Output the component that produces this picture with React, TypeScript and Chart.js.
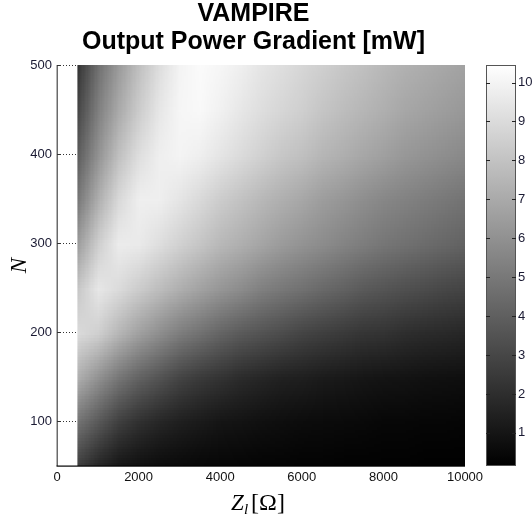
import React, { useEffect, useRef } from 'react';
import { Chart, registerables } from 'chart.js';

Chart.register(...registerables);

// Load impedance Z_l [Ω] (grid columns)
const zValues = [500, 1000, 1500, 2000, 2500, 3000, 3500, 4000, 4500, 5000, 5500, 6000, 6500, 7000, 7500, 8000, 8500, 9000, 9500, 10000];
// N (grid rows, top to bottom)
const nValues = [500, 450, 400, 350, 300, 250, 200, 150, 100, 50];

// Output power gradient [mW], one row per N value
const powerN500 = [2.3, 4.7, 6.4, 7.9, 9.1, 10.0, 10.3, 10.1, 9.8, 9.4, 9.1, 8.8, 8.5, 8.2, 7.9, 7.6, 7.3, 7.1, 6.9, 6.7];
const powerN450 = [3.0, 5.3, 7.0, 8.4, 9.5, 10.1, 10.2, 9.9, 9.5, 9.1, 8.8, 8.5, 8.1, 7.8, 7.5, 7.2, 6.9, 6.7, 6.5, 6.3];
const powerN400 = [3.9, 6.1, 7.9, 9.1, 9.8, 10.0, 9.8, 9.4, 9.0, 8.6, 8.2, 7.9, 7.5, 7.2, 6.9, 6.6, 6.3, 6.1, 5.9, 5.7];
const powerN350 = [5.0, 7.2, 8.9, 9.8, 9.8, 9.4, 8.9, 8.4, 8.0, 7.6, 7.2, 6.9, 6.5, 6.2, 5.9, 5.6, 5.4, 5.2, 5.0, 4.8];
const powerN300 = [6.5, 8.5, 9.7, 9.6, 9.1, 8.6, 8.1, 7.6, 7.2, 6.8, 6.4, 6.1, 5.8, 5.5, 5.2, 4.9, 4.7, 4.5, 4.3, 4.1];
const powerN250 = [8.2, 9.5, 9.0, 8.4, 7.8, 7.2, 6.7, 6.2, 5.8, 5.3, 5.0, 4.7, 4.4, 4.1, 3.8, 3.6, 3.4, 3.2, 3.0, 2.9];
const powerN200 = [9.0, 8.5, 7.5, 6.6, 5.9, 5.2, 4.7, 4.2, 3.8, 3.5, 3.2, 2.9, 2.7, 2.5, 2.3, 2.2, 2.0, 1.9, 1.8, 1.7];
const powerN150 = [7.2, 6.0, 4.9, 4.1, 3.5, 2.9, 2.5, 2.2, 1.9, 1.7, 1.5, 1.4, 1.25, 1.15, 1.05, 0.95, 0.9, 0.85, 0.8, 0.75];
const powerN100 = [4.8, 3.7, 2.7, 2.1, 1.7, 1.4, 1.2, 1.0, 0.9, 0.8, 0.7, 0.65, 0.6, 0.55, 0.5, 0.45, 0.42, 0.4, 0.38, 0.35];
const powerN50 = [2.6, 1.6, 1.0, 0.75, 0.6, 0.5, 0.45, 0.4, 0.35, 0.33, 0.3, 0.28, 0.26, 0.25, 0.24, 0.23, 0.22, 0.21, 0.2, 0.2];

const powerRows = [powerN500, powerN450, powerN400, powerN350, powerN300, powerN250, powerN200, powerN150, powerN100, powerN50];

// Tick labels
const xTicks = [0, 2000, 4000, 6000, 8000, 10000];
const yTicks = [100, 200, 300, 400, 500];
const cbTicks = [1, 2, 3, 4, 5, 6, 7, 8, 9, 10];
const cbMin = 0.15;
const cbMax = 10.45;

const grayOf = (v: number) => {
  const t = Math.max(0, Math.min(1, (v - cbMin) / (cbMax - cbMin)));
  return Math.round(t * 255);
};

const heatPlugin = {
  id: 'heat',
  afterLayout(chart: any) {
    const t = chart.titleBlock;
    if (t) t.right -= 25;
  },
  beforeDatasetsDraw(chart: any) {
    const { ctx, scales } = chart;
    const xs = scales.x;
    const ys = scales.y;
    const cols = zValues.length;
    const rows = nValues.length;
    const off = document.createElement('canvas');
    off.width = cols;
    off.height = rows;
    const octx = off.getContext('2d')!;
    const img = octx.createImageData(cols, rows);
    const pts = chart.data.datasets[0].data as any[];
    pts.forEach((p) => {
      const i = zValues.indexOf(p.x);
      const j = nValues.indexOf(p.y);
      const g = grayOf(p.v);
      const k = (j * cols + i) * 4;
      img.data[k] = g;
      img.data[k + 1] = g;
      img.data[k + 2] = g;
      img.data[k + 3] = 255;
    });
    octx.putImageData(img, 0, 0);
    const dz = zValues[1] - zValues[0];
    const dn = nValues[0] - nValues[1];
    const left = xs.getPixelForValue(zValues[0] - dz / 2);
    const right = xs.getPixelForValue(zValues[cols - 1] + dz / 2);
    const top = ys.getPixelForValue(nValues[0] + dn / 2);
    const bottom = ys.getPixelForValue(nValues[rows - 1] - dn / 2);
    const cx0 = xs.getPixelForValue(zValues[0]);
    const cx1 = xs.getPixelForValue(zValues[cols - 1]);
    const cy0 = ys.getPixelForValue(nValues[0]);
    const cy1 = ys.getPixelForValue(nValues[rows - 1]);
    ctx.save();
    ctx.beginPath();
    ctx.rect(cx0, cy0, cx1 - cx0, cy1 - cy0);
    ctx.clip();
    ctx.imageSmoothingEnabled = true;
    ctx.drawImage(off, left, top, right - left, bottom - top);
    ctx.restore();
  },
  afterDraw(chart: any) {
    const { ctx, chartArea, scales } = chart;
    const ys = scales.y;
    const cb = scales.cb;
    ctx.save();
    // axis lines
    ctx.fillStyle = '#6a6a6a';
    ctx.fillRect(chartArea.left - 0.5, chartArea.top, 1.5, chartArea.bottom - chartArea.top);
    ctx.fillStyle = '#000';
    ctx.fillRect(chartArea.left - 0.5, chartArea.bottom - 0.5, chartArea.right - chartArea.left + 0.5, 1.2);
    // y ticks: short solid + dotted
    ctx.strokeStyle = '#333';
    ctx.lineWidth = 1;
    yTicks.forEach((v) => {
      const y = Math.round(ys.getPixelForValue(v)) + 0.5;
      ctx.setLineDash([]);
      ctx.beginPath();
      ctx.moveTo(chartArea.left, y);
      ctx.lineTo(chartArea.left + 4, y);
      ctx.stroke();
      ctx.setLineDash([1, 2]);
      ctx.beginPath();
      ctx.moveTo(chartArea.left + 6, y);
      ctx.lineTo(chartArea.left + 20, y);
      ctx.stroke();
    });
    ctx.setLineDash([]);
    // colorbar
    const x0 = chartArea.right + 21;
    const w = 30;
    const yTop = cb.getPixelForValue(cbMax);
    const yBot = cb.getPixelForValue(cbMin);
    const grad = ctx.createLinearGradient(0, yBot, 0, yTop);
    grad.addColorStop(0, 'rgb(0,0,0)');
    grad.addColorStop(1, 'rgb(255,255,255)');
    ctx.fillStyle = grad;
    ctx.fillRect(x0, yTop, w, yBot - yTop);
    ctx.strokeStyle = '#555';
    ctx.lineWidth = 1;
    ctx.strokeRect(x0 + 0.5, yTop + 0.5, w - 1, yBot - yTop - 1);
    ctx.strokeStyle = '#222';
    cbTicks.forEach((v) => {
      const y = Math.round(cb.getPixelForValue(v)) + 0.5;
      ctx.beginPath();
      ctx.moveTo(x0, y);
      ctx.lineTo(x0 + 4, y);
      ctx.moveTo(x0 + w - 4, y);
      ctx.lineTo(x0 + w, y);
      ctx.stroke();
    });
    // x axis title Z_l [Ω]
    const cx = (chartArea.left + chartArea.right) / 2;
    const base = 510;
    ctx.fillStyle = '#000';
    ctx.textBaseline = 'alphabetic';
    ctx.textAlign = 'left';
    const fZ = 'italic 23px "Liberation Serif"';
    const fSub = 'italic 15px "Liberation Serif"';
    const fBr = '24px "Liberation Serif"';
    ctx.font = fZ;
    const wZ = ctx.measureText('Z').width;
    ctx.font = fSub;
    const wl = ctx.measureText('l').width;
    ctx.font = fBr;
    const wB = ctx.measureText('[Ω]').width;
    const total = wZ + wl + 3 + wB;
    let xx = cx - 3 - total / 2;
    ctx.font = fZ;
    ctx.fillText('Z', xx, base);
    xx += wZ;
    ctx.font = fSub;
    ctx.fillText('l', xx, base + 4);
    xx += wl + 3;
    ctx.font = fBr;
    ctx.fillText('[Ω]', xx, base);
    ctx.restore();
  },
};

const heatData = zValues.flatMap((z, i) => nValues.map((n, j) => ({ x: z, y: n, v: powerRows[j][i] })));

export default function App() {
  const ref = useRef<HTMLCanvasElement>(null);
  useEffect(() => {
    if (!ref.current) return;
    const tickFont = { family: '"Liberation Sans", Arial, sans-serif', size: 13 };
    const chart = new Chart(ref.current, {
      type: 'scatter',
      data: {
        datasets: [
          {
            label: 'Output Power Gradient [mW]',
            data: heatData as any,
            pointRadius: 0,
            pointHoverRadius: 0,
          },
        ],
      },
      options: {
        animation: false,
        responsive: false,
        layout: { padding: 0 },
        plugins: {
          legend: { display: false },
          tooltip: { enabled: false },
          title: {
            display: true,
            text: ['VAMPIRE', 'Output Power Gradient [mW]'],
            color: '#000',
            font: { family: '"Liberation Sans", Arial, sans-serif', size: 25, weight: 'bold', lineHeight: 1.12 },
            padding: { top: 0, bottom: 9 },
          },
        },
        scales: {
          x: {
            type: 'linear',
            min: 0,
            max: 10000,
            grid: { display: false, drawTicks: false },
            border: { display: false },
            afterBuildTicks: (s: any) => {
              s.ticks = xTicks.map((v) => ({ value: v }));
            },
            afterFit: (s: any) => {
              s.height = 53;
            },
            ticks: {
              color: '#111',
              font: tickFont,
              padding: 4,
              maxRotation: 0,
              autoSkip: false,
              callback: (v: any) => String(v),
            },
          },
          y: {
            type: 'linear',
            position: 'left',
            min: 50,
            max: 500,
            grid: { display: false, drawTicks: false },
            border: { display: false },
            afterBuildTicks: (s: any) => {
              s.ticks = yTicks.map((v) => ({ value: v }));
            },
            afterFit: (s: any) => {
              s.width = 57;
              s.paddingTop = 0;
              s.paddingBottom = 0;
            },
            ticks: { color: '#1a1a33', font: tickFont, padding: 5, autoSkip: false, callback: (v: any) => String(v) },
            title: {
              display: true,
              text: 'N',
              color: '#000',
              font: { family: '"Liberation Serif", serif', size: 23, style: 'italic' },
              padding: 6,
            },
          },
          cb: {
            type: 'linear',
            position: 'right',
            min: cbMin,
            max: cbMax,
            grid: { display: true, drawOnChartArea: false, drawTicks: true, tickLength: 53, color: 'rgba(0,0,0,0)' },
            border: { display: false },
            afterBuildTicks: (s: any) => {
              s.ticks = cbTicks.map((v) => ({ value: v }));
            },
            afterFit: (s: any) => {
              s.width = 67;
              s.paddingTop = 0;
              s.paddingBottom = 0;
            },
            ticks: { color: '#1a1a33', font: tickFont, padding: 0, autoSkip: false, callback: (v: any) => String(v) },
          },
        },
      },
      plugins: [heatPlugin],
    });
    return () => chart.destroy();
  }, []);
  return (
    <div style={{ position: 'fixed', left: 0, top: 0, width: 532, height: 519, background: '#fff' }}>
      <canvas ref={ref} width={532} height={519} style={{ display: 'block' }} />
    </div>
  );
}
